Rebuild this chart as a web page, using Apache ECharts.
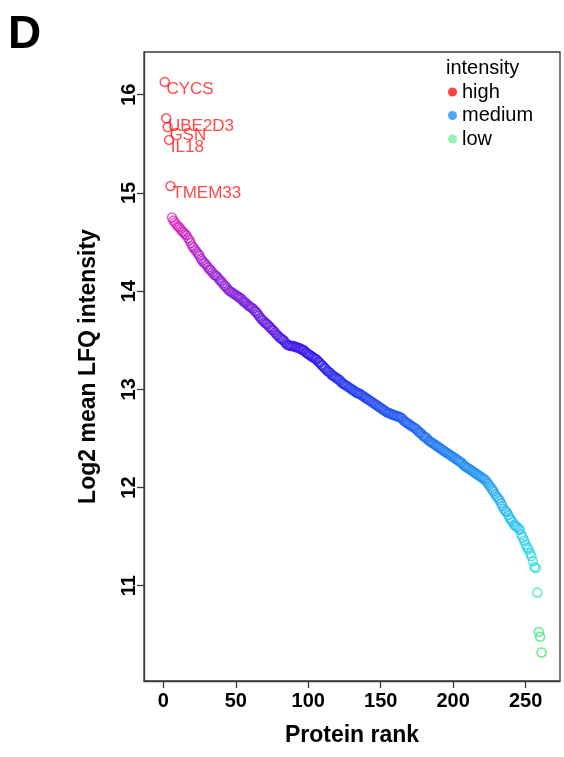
<!DOCTYPE html>
<html>
<head>
<meta charset="utf-8">
<script src="https://cdn.jsdelivr.net/npm/echarts@6/dist/echarts.min.js"></script>
<style>
  html, body { margin: 0; padding: 0; background: #fff; }
  #chart { width: 564px; height: 757px; }
</style>
</head>
<body>
<div id="chart"></div>
<script>
// Log2 mean LFQ intensity for each protein, ordered by rank (rank = index + 1)
const lfqIntensity = [
  16.13, 15.76, 15.67, 15.54, 15.07, 14.75, 14.72, 14.70, 14.68, 14.66,
  14.65, 14.63, 14.61, 14.60, 14.58, 14.57, 14.54, 14.52, 14.49, 14.46,
  14.44, 14.42, 14.40, 14.38, 14.36, 14.33, 14.31, 14.29, 14.28, 14.26,
  14.24, 14.22, 14.21, 14.19, 14.17, 14.16, 14.15, 14.13, 14.11, 14.10,
  14.08, 14.06, 14.05, 14.03, 14.01, 14.00, 13.99, 13.98, 13.97, 13.96,
  13.95, 13.94, 13.93, 13.92, 13.90, 13.89, 13.88, 13.86, 13.85, 13.84,
  13.83, 13.82, 13.80, 13.79, 13.77, 13.75, 13.73, 13.71, 13.70, 13.68,
  13.67, 13.66, 13.64, 13.63, 13.61, 13.60, 13.58, 13.56, 13.55, 13.53,
  13.52, 13.51, 13.50, 13.48, 13.46, 13.45, 13.45, 13.44, 13.44, 13.44,
  13.43, 13.43, 13.42, 13.42, 13.41, 13.40, 13.40, 13.38, 13.37, 13.36,
  13.35, 13.34, 13.33, 13.32, 13.31, 13.30, 13.28, 13.27, 13.25, 13.24,
  13.22, 13.21, 13.19, 13.18, 13.17, 13.15, 13.14, 13.13, 13.12, 13.11,
  13.10, 13.09, 13.07, 13.06, 13.05, 13.04, 13.03, 13.02, 13.01, 13.00,
  12.99, 12.98, 12.97, 12.96, 12.96, 12.95, 12.94, 12.93, 12.92, 12.91,
  12.90, 12.89, 12.88, 12.87, 12.86, 12.85, 12.84, 12.83, 12.82, 12.81,
  12.80, 12.79, 12.78, 12.77, 12.76, 12.76, 12.75, 12.74, 12.74, 12.73,
  12.73, 12.72, 12.72, 12.71, 12.70, 12.68, 12.67, 12.66, 12.65, 12.64,
  12.63, 12.62, 12.61, 12.60, 12.59, 12.57, 12.56, 12.55, 12.53, 12.52,
  12.51, 12.50, 12.48, 12.47, 12.46, 12.45, 12.44, 12.43, 12.42, 12.41,
  12.40, 12.39, 12.38, 12.37, 12.36, 12.35, 12.34, 12.33, 12.32, 12.31,
  12.30, 12.29, 12.28, 12.27, 12.26, 12.25, 12.23, 12.22, 12.21, 12.20,
  12.19, 12.18, 12.17, 12.16, 12.15, 12.14, 12.13, 12.12, 12.11, 12.10,
  12.09, 12.08, 12.06, 12.04, 12.02, 12.00, 11.98, 11.96, 11.93, 11.91,
  11.89, 11.87, 11.84, 11.81, 11.78, 11.76, 11.75, 11.72, 11.69, 11.67,
  11.65, 11.62, 11.61, 11.60, 11.58, 11.57, 11.52, 11.49, 11.46, 11.42,
  11.39, 11.37, 11.33, 11.30, 11.25, 11.19, 11.18, 10.93, 10.53, 10.48, 10.32
];

// Gene names shown next to the top-ranked proteins
const topGenes = ['CYCS', 'UBE2D3', 'GSN', 'IL18', 'TMEM33'];

// Axis ticks
const xTicks = [0, 50, 100, 150, 200, 250];
const yTicks = [11, 12, 13, 14, 15, 16];

// Legend groups
const legendNames = ['high', 'medium', 'low'];
const legendColors = ['#ff1010', '#1e90ff', '#7df09a'];

// Intensity colour ramp (value -> colour), interpolated linearly
const rampStops = [
  [10.30, [40, 228, 90]],
  [10.90, [30, 228, 160]],
  [11.20, [30, 222, 222]],
  [11.60, [30, 196, 240]],
  [12.30, [30, 130, 240]],
  [12.80, [32, 80, 238]],
  [13.30, [40, 20, 236]],
  [13.60, [86, 20, 222]],
  [14.00, [134, 30, 212]],
  [14.40, [180, 30, 200]],
  [14.76, [226, 32, 184]],
  [15.00, [255, 20, 40]],
  [16.50, [255, 20, 20]]
];

function rampColor(v) {
  if (v <= rampStops[0][0]) return rgba(rampStops[0][1]);
  for (let i = 1; i < rampStops.length; i++) {
    const [v1, c1] = rampStops[i];
    const [v0, c0] = rampStops[i - 1];
    if (v <= v1) {
      const t = (v - v0) / (v1 - v0);
      return rgba(c0.map((c, k) => Math.round(c + (c1[k] - c) * t)));
    }
  }
  return rgba(rampStops[rampStops.length - 1][1]);
}
function rgba(c) { return 'rgba(' + c[0] + ',' + c[1] + ',' + c[2] + ',0.9)'; }

const fontFamily = 'Liberation Sans, Arial, sans-serif';

const pointData = lfqIntensity.map((v, i) => {
  const item = {
    value: [i + 1, v],
    itemStyle: { borderColor: rampColor(v) }
  };
  if (i < topGenes.length) {
    item.name = topGenes[i];
    item.label = {
      show: true,
      formatter: '{b}',
      position: [7, 13],
      align: 'left',
      verticalAlign: 'middle',
      color: '#ff1a1a',
      fontSize: 17,
      fontFamily
    };
  }
  return item;
});

const axisColor = '#3a3a3a';

const chart = echarts.init(document.getElementById('chart'), null, { renderer: 'canvas' });

chart.setOption({
  animation: false,
  backgroundColor: '#ffffff',
  grid: {
    left: 144, top: 52, right: 4, bottom: 76,
    show: true, borderColor: axisColor, borderWidth: 1.3,
    backgroundColor: 'transparent'
  },
  xAxis: {
    type: 'value',
    min: -13.3, max: 273.7,
    name: 'Protein rank',
    nameLocation: 'middle',
    nameGap: 43,
    nameTextStyle: { fontFamily, fontSize: 23, fontWeight: 'bold', color: '#000' },
    axisLine: { show: true, onZero: false, lineStyle: { color: axisColor, width: 1.3 } },
    splitLine: { show: false },
    axisTick: { show: true, length: 7, customValues: xTicks, lineStyle: { color: axisColor, width: 1.3 } },
    axisLabel: { customValues: xTicks, margin: 10, fontFamily, fontSize: 20, fontWeight: 'bold', color: '#000' }
  },
  yAxis: {
    type: 'value',
    min: 10.03, max: 16.435,
    name: 'Log2 mean LFQ intensity',
    nameLocation: 'middle',
    nameGap: 44,
    nameRotate: 90,
    nameTextStyle: { fontFamily, fontSize: 23, fontWeight: 'bold', color: '#000' },
    axisLine: { show: true, onZero: false, lineStyle: { color: axisColor, width: 1.3 } },
    splitLine: { show: false },
    axisTick: { show: true, length: 7, customValues: yTicks, lineStyle: { color: axisColor, width: 1.3 } },
    axisLabel: { customValues: yTicks, rotate: 90, margin: 5, fontFamily, fontSize: 20, fontWeight: 'bold', color: '#000' }
  },
  legend: {
    orient: 'vertical',
    left: 443, top: 77,
    icon: 'circle',
    itemWidth: 9, itemHeight: 9,
    itemGap: 3.5,
    data: legendNames,
    textStyle: { fontFamily, fontSize: 20, color: '#000', lineHeight: 20 },
    selectedMode: false
  },
  graphic: [
    { type: 'text', left: 8, top: 12, style: { text: 'D', font: 'bold 46px Liberation Sans, Arial, sans-serif', fill: '#000' } },
    { type: 'text', left: 446, top: 58, style: { text: 'intensity', font: '20px Liberation Sans, Arial, sans-serif', fill: '#000' } }
  ],
  series: [
    {
      type: 'scatter',
      name: 'proteins',
      symbol: 'circle',
      symbolSize: 9,
      itemStyle: { color: 'rgba(0,0,0,0)', borderWidth: 1.5 },
      data: pointData,
      z: 3
    }
  ].concat(legendNames.map((n, i) => ({
    type: 'scatter', name: n, data: [],
    itemStyle: { color: legendColors[i] }
  })))
});
</script>
</body>
</html>
